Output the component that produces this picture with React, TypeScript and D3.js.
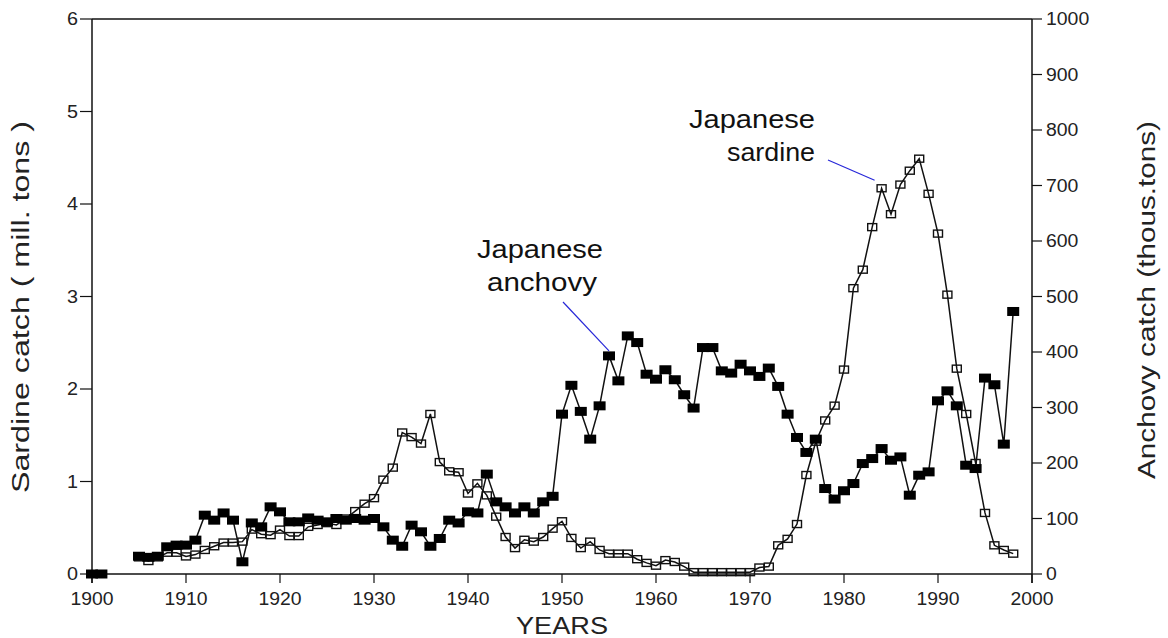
import React, { useEffect, useRef } from "react";
import * as d3 from "d3";

// japanese sardine (mill. tons, left axis) - open squares
const sardineYears = d3.range(1905, 1999);
const sardineCatch = [
  0.18, 0.14, 0.18, 0.23, 0.23, 0.19, 0.21, 0.26, 0.3, 0.34,
  0.34, 0.35, 0.48, 0.43, 0.42, 0.48, 0.41, 0.41, 0.51, 0.53,
  0.55, 0.53, 0.6, 0.68, 0.76, 0.82, 1.02, 1.15, 1.53, 1.48,
  1.41, 1.73, 1.21, 1.11, 1.1, 0.87, 0.98, 0.85, 0.62, 0.4,
  0.28, 0.37, 0.35, 0.4, 0.49, 0.57, 0.39, 0.28, 0.35, 0.26,
  0.22, 0.22, 0.22, 0.16, 0.12, 0.09, 0.15, 0.13, 0.08, 0.02,
  0.02, 0.02, 0.02, 0.02, 0.02, 0.02, 0.07, 0.08, 0.31, 0.38,
  0.54, 1.07, 1.43, 1.66, 1.82, 2.21, 3.09, 3.29, 3.75, 4.17,
  3.89, 4.21, 4.36, 4.49, 4.11, 3.68, 3.02, 2.22, 1.73, 1.2,
  0.66, 0.31, 0.26, 0.22,
];

// japanese anchovy (thous. tons, right axis) - filled squares, no data 1902-1904
const anchovyYears = d3.range(1900, 1999);
const anchovyCatch: (number | null)[] = [
  0, 0, null, null, null, 32, 30, 32, 49, 52,
  52, 61, 106, 97, 110, 97, 22, 92, 85, 121,
  112, 94, 94, 101, 97, 94, 100, 97, 100, 97,
  100, 85, 61, 50, 88, 76, 50, 64, 97, 92,
  112, 110, 180, 130, 121, 110, 121, 110, 130, 140,
  288, 340, 293, 243, 303, 393, 348, 429, 417, 360,
  351, 368, 350, 323, 299, 408, 408, 366, 362, 378,
  366, 356, 371, 338, 288, 246, 219, 243, 154, 135,
  150, 163, 199, 208, 226, 205, 211, 142, 178, 184,
  312, 330, 303, 196, 190, 353, 341, 234, 473,
];

const yearTicks = d3.range(1900, 2001, 10);
const leftTicks = d3.range(0, 7, 1);
const rightTicks = d3.range(0, 1001, 100);

const FONT = "'Liberation Sans', Arial, Helvetica, sans-serif";

function App() {
  const ref = useRef<SVGSVGElement>(null);

  useEffect(() => {
    const svg = d3.select(ref.current);
    svg.selectAll("*").remove();

    const x = d3.scaleLinear().domain([1900, 2000]).range([92, 1032]);
    const yL = d3.scaleLinear().domain([0, 6]).range([574, 19]);
    const yR = d3.scaleLinear().domain([0, 1000]).range([574, 19]);
    const left = x(1900), right = x(2000), top = yL(6), bottom = yL(0);

    const g = svg.append("g");

    // frame
    const axisCol = "#111";
    g.append("line").attr("x1", left).attr("x2", left).attr("y1", top).attr("y2", bottom + 9)
      .attr("stroke", axisCol).attr("stroke-width", 1.5);
    g.append("line").attr("x1", right).attr("x2", right).attr("y1", top).attr("y2", bottom + 9)
      .attr("stroke", axisCol).attr("stroke-width", 1.5);
    g.append("line").attr("x1", left).attr("x2", right).attr("y1", top).attr("y2", top)
      .attr("stroke", axisCol).attr("stroke-width", 1.5);
    g.append("line").attr("x1", left).attr("x2", right).attr("y1", bottom).attr("y2", bottom)
      .attr("stroke", axisCol).attr("stroke-width", 1.5);

    // bottom ticks
    yearTicks.forEach((t) => {
      g.append("line").attr("x1", x(t)).attr("x2", x(t)).attr("y1", bottom).attr("y2", bottom + 9)
        .attr("stroke", axisCol).attr("stroke-width", 1.2);
      g.append("text").attr("x", x(t)).attr("y", 605).attr("text-anchor", "middle")
        .attr("font-family", FONT).attr("font-size", 18).attr("fill", "#222")
        .attr("textLength", 43).attr("lengthAdjust", "spacingAndGlyphs")
        .text(t);
    });

    // left ticks
    leftTicks.forEach((t) => {
      g.append("line").attr("x1", left - 12).attr("x2", left).attr("y1", yL(t)).attr("y2", yL(t))
        .attr("stroke", axisCol).attr("stroke-width", 1.2);
      g.append("text").attr("x", 78).attr("y", yL(t)).attr("dy", "0.36em").attr("text-anchor", "end")
        .attr("font-family", FONT).attr("font-size", 18).attr("fill", "#222")
        .attr("textLength", 11).attr("lengthAdjust", "spacingAndGlyphs")
        .text(t);
    });

    // right ticks
    rightTicks.forEach((t) => {
      g.append("line").attr("x1", right).attr("x2", right + 10).attr("y1", yR(t)).attr("y2", yR(t))
        .attr("stroke", axisCol).attr("stroke-width", 1.2);
      const s = String(t);
      g.append("text").attr("x", right + 14).attr("y", yR(t)).attr("dy", "0.36em")
        .attr("font-family", FONT).attr("font-size", 18).attr("fill", "#222")
        .attr("textLength", 10.8 * s.length).attr("lengthAdjust", "spacingAndGlyphs")
        .text(s);
    });

    // axis titles
    g.append("text").attr("transform", "translate(29,307) rotate(-90)").attr("text-anchor", "middle")
      .attr("font-family", FONT).attr("font-size", 23).attr("fill", "#222")
      .attr("textLength", 372).attr("lengthAdjust", "spacingAndGlyphs")
      .text("Sardine catch ( mill. tons )");
    g.append("text").attr("transform", "translate(1155,300) rotate(-90)").attr("text-anchor", "middle")
      .attr("font-family", FONT).attr("font-size", 23).attr("fill", "#222")
      .attr("textLength", 358).attr("lengthAdjust", "spacingAndGlyphs")
      .text("Anchovy catch (thous.tons)");
    g.append("text").attr("x", 562).attr("y", 634).attr("text-anchor", "middle")
      .attr("font-family", FONT).attr("font-size", 23).attr("fill", "#222")
      .attr("textLength", 92).attr("lengthAdjust", "spacingAndGlyphs")
      .text("YEARS");

    // series lines
    const anchovyData = anchovyYears.map((yr, i) => ({ yr, v: anchovyCatch[i] }));
    const sardineData = sardineYears.map((yr, i) => ({ yr, v: sardineCatch[i] }));

    const anchovyLine = d3.line<any>()
      .defined((d) => d.v !== null)
      .x((d) => x(d.yr)).y((d) => yR(d.v));
    const sardineLine = d3.line<any>().x((d) => x(d.yr)).y((d) => yL(d.v));

    g.append("path").datum(sardineData).attr("d", sardineLine)
      .attr("fill", "none").attr("stroke", "#111").attr("stroke-width", 1.5);
    g.append("path").datum(anchovyData).attr("d", anchovyLine)
      .attr("fill", "none").attr("stroke", "#111").attr("stroke-width", 1.5);

    // markers
    g.selectAll(".sq-open").data(sardineData).join("rect")
      .attr("class", "sq-open")
      .attr("x", (d) => x(d.yr) - 4.5).attr("y", (d) => yL(d.v) - 3.5)
      .attr("width", 9).attr("height", 7)
      .attr("fill", "none").attr("stroke", "#111").attr("stroke-width", 1.4);
    g.selectAll(".sq-fill").data(anchovyData.filter((d) => d.v !== null)).join("rect")
      .attr("class", "sq-fill")
      .attr("x", (d) => x(d.yr) - 6).attr("y", (d) => yR(d.v as number) - 4.5)
      .attr("width", 12).attr("height", 9)
      .attr("fill", "#000");

    // annotations
    const note = (tx: number, ty: number, s: string, len: number) =>
      g.append("text").attr("x", tx).attr("y", ty).attr("text-anchor", "middle")
        .attr("font-family", FONT).attr("font-size", 26).attr("fill", "#111")
        .attr("textLength", len).attr("lengthAdjust", "spacingAndGlyphs")
        .text(s);
    note(540, 258, "Japanese", 126);
    note(542, 291, "anchovy", 110);
    note(752, 128, "Japanese", 126);
    note(771, 161, "sardine", 88);

    g.append("line").attr("x1", 563).attr("y1", 302).attr("x2", x(1955)).attr("y2", yR(393) - 5)
      .attr("stroke", "#2727d8").attr("stroke-width", 1.2);
    g.append("line").attr("x1", 828).attr("y1", 160).attr("x2", x(1984) - 7).attr("y2", yL(4.17) - 8)
      .attr("stroke", "#2727d8").attr("stroke-width", 1.2);
  }, []);

  return (
    <svg
      ref={ref}
      width={1168}
      height={638}
      style={{ position: "absolute", left: 0, top: 0, background: "#fff" }}
    />
  );
}

export default App;
